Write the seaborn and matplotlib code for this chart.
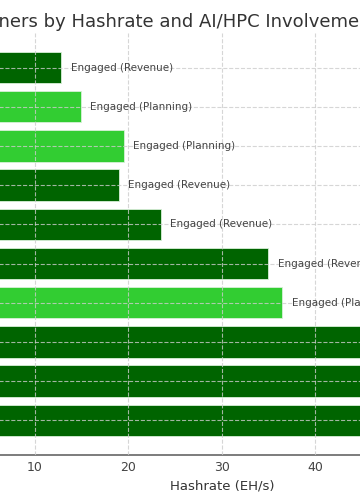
import seaborn as sns
import matplotlib.pyplot as plt

miners = ["TeraWulf", "Bitfarms", "Hut 8", "Core Scientific", "Cipher Mining",
          "IREN", "Riot Platforms", "Bitdeer", "CleanSpark", "MARA Holdings"]
hashrate = [12.8, 14.9, 19.5, 19.0, 23.5, 35.0, 36.5, 48.0, 50.0, 57.0]
status = ["Engaged (Revenue)", "Engaged (Planning)", "Engaged (Planning)",
          "Engaged (Revenue)", "Engaged (Revenue)", "Engaged (Revenue)",
          "Engaged (Planning)", "Engaged (Revenue)", "Engaged (Revenue)",
          "Engaged (Revenue)"]
colors = {"Engaged (Revenue)": "#006400", "Engaged (Planning)": "#32cd32"}

sns.set_style("whitegrid", {"grid.linestyle": "--", "axes.axisbelow": False})
plt.rcParams["font.family"] = ["DejaVu Sans"]

fig = plt.figure(figsize=(3.6, 5.04), dpi=100)
# the axes run past both edges of the figure
ax = fig.add_axes([-0.162, 0.097, 1.556, 0.838])

sns.barplot(x=hashrate, y=miners, hue=status, palette=colors, dodge=False,
            orient="h", width=0.8, saturation=1, edgecolor="#d8f0d8",
            linewidth=0.6, legend=False, ax=ax)

for i, (v, s) in enumerate(zip(hashrate, status)):
    ax.text(v + 1, i, s, va="center", ha="left", fontsize=7.5, color="#444444")

ax.set_xlim(0, 60)
ax.set_ylim(len(miners) - 1 + 0.89, -0.89)
ax.set_xticks([0, 10, 20, 30, 40, 50, 60])
ax.grid(True, axis="both", color="#cccccc", linewidth=0.8, alpha=0.8)
ax.set_xlabel("Hashrate (EH/s)", fontsize=9.5, color="#333333")
ax.set_ylabel("")
ax.tick_params(axis="x", labelsize=9, colors="#444444", length=0, pad=4)
ax.tick_params(axis="y", labelsize=9, colors="#444444", length=0)
for side in ["top", "right", "left"]:
    ax.spines[side].set_visible(False)
ax.spines["bottom"].set_color("#666666")
ax.spines["bottom"].set_linewidth(1.2)

# title is centred on the wider original figure, so it is cut at both sides
title = "Top Bitcoin Miners by Hashrate and AI/HPC Involvement"
renderer = fig.canvas.get_renderer()
probe = fig.text(0, 0, "Top Bitcoin Mi", fontsize=13)
w = probe.get_window_extent(renderer).width
probe.remove()
fig.text((-w - 1) / 360, 1 - 27 / 504, title, fontsize=13, color="#333333",
         ha="left", va="baseline")

fig.savefig("out.png", dpi=100)
